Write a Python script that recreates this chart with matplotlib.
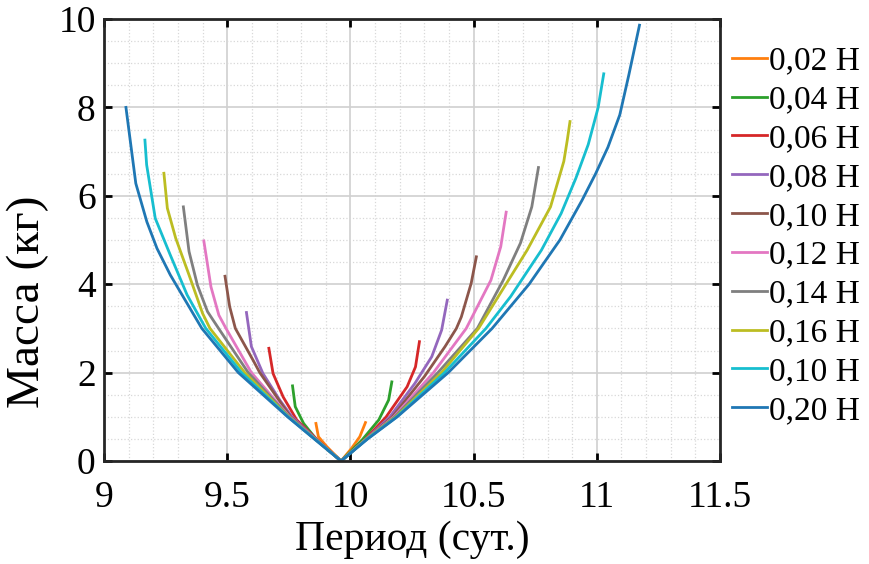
import matplotlib
matplotlib.use("Agg")
import matplotlib.pyplot as plt
from matplotlib.ticker import MultipleLocator

plt.rcParams['font.family'] = ['Liberation Serif', 'DejaVu Serif']

labels = ['0,02 Н', '0,04 Н', '0,06 Н', '0,08 Н', '0,10 Н',
          '0,12 Н', '0,14 Н', '0,16 Н', '0,10 Н', '0,20 Н']
colors = ['#ff7f0e', '#2ca02c', '#d62728', '#9467bd', '#8c564b',
          '#e377c2', '#7f7f7f', '#bcbd22', '#17becf', '#1f77b4']
xticks = [9, 9.5, 10, 10.5, 11, 11.5]
xtick_labels = ['9', '9.5', '10', '10.5', '11', '11.5']
yticks = [0, 2, 4, 6, 8, 10]

# period (days) / mass (kg), left top -> vertex -> right top
p002 = [9.860, 9.870, 9.905, 9.962, 10.005, 10.038, 10.061]
m002 = [0.85, 0.55, 0.32, 0.0, 0.29, 0.55, 0.87]

p004 = [9.765, 9.776, 9.810, 9.864, 9.962, 10.047, 10.115, 10.155, 10.168]
m004 = [1.70, 1.23, 0.85, 0.475, 0.0, 0.475, 0.93, 1.38, 1.79]

p006 = [9.669, 9.686, 9.727, 9.782, 9.862, 9.962, 10.062, 10.145, 10.23, 10.264, 10.28]
m006 = [2.55, 1.98, 1.45, 0.93, 0.5, 0.0, 0.5, 1.0, 1.68, 2.13, 2.70]

p008 = [9.578, 9.598, 9.645, 9.713, 9.763, 9.859, 9.962, 10.064, 10.16, 10.262, 10.33, 10.37, 10.393]
m008 = [3.36, 2.59, 1.98, 1.38, 1.0, 0.5, 0.0, 0.5, 1.0, 1.76, 2.36, 2.96, 3.64]

p010 = [9.491, 9.51, 9.533, 9.605, 9.632, 9.757, 9.858, 9.962, 10.065, 10.17, 10.30, 10.384, 10.43, 10.45, 10.49, 10.511]
m010 = [4.18, 3.49, 3.0, 2.28, 2.0, 1.0, 0.5, 0.0, 0.5, 1.0, 1.91, 2.59, 3.0, 3.26, 4.02, 4.62]

p012 = [9.405, 9.434, 9.466, 9.495, 9.598, 9.753, 9.858, 9.962, 10.065, 10.176, 10.337, 10.47, 10.57, 10.61, 10.632]
m012 = [4.98, 3.94, 3.30, 3.0, 2.0, 1.0, 0.5, 0.0, 0.5, 1.0, 2.0, 3.0, 4.09, 4.85, 5.63]

p014 = [9.322, 9.345, 9.379, 9.42, 9.465, 9.585, 9.751, 9.857, 9.962, 10.066, 10.18, 10.355, 10.515, 10.62, 10.69, 10.736, 10.763]
m014 = [5.75, 4.74, 3.98, 3.38, 3.0, 2.0, 1.0, 0.5, 0.0, 0.5, 1.0, 2.0, 3.0, 4.09, 4.93, 5.75, 6.64]

p016 = [9.243, 9.257, 9.291, 9.345, 9.40, 9.43, 9.571, 9.749, 9.856, 9.962, 10.066, 10.185, 10.37, 10.52, 10.62, 10.717, 10.812, 10.866, 10.88, 10.891]
m016 = [6.51, 5.72, 5.04, 4.21, 3.34, 3.0, 2.0, 1.0, 0.5, 0.0, 0.5, 1.0, 2.0, 3.0, 3.9, 4.77, 5.75, 6.78, 7.26, 7.68]

p018 = [9.166, 9.173, 9.208, 9.269, 9.337, 9.413, 9.558, 9.747, 9.855, 9.962, 10.068, 10.188, 10.382, 10.55, 10.65, 10.775, 10.855, 10.915, 10.965, 11.005, 11.028]
m018 = [7.26, 6.70, 5.49, 4.66, 3.76, 3.0, 2.0, 1.0, 0.5, 0.0, 0.5, 1.0, 2.0, 3.0, 3.72, 4.77, 5.6, 6.4, 7.16, 7.99, 8.76]

p020 = [9.089, 9.129, 9.174, 9.215, 9.269, 9.397, 9.545, 9.745, 9.853, 9.962, 10.07, 10.19, 10.397, 10.575, 10.725, 10.85, 10.94, 10.995, 11.045, 11.093, 11.13, 11.173]
m020 = [8.0, 6.28, 5.41, 4.81, 4.21, 3.0, 2.0, 1.0, 0.5, 0.0, 0.5, 1.0, 2.0, 3.0, 4.0, 5.0, 5.9, 6.5, 7.1, 7.83, 8.74, 9.86]

periods = [p002, p004, p006, p008, p010, p012, p014, p016, p018, p020]
masses = [m002, m004, m006, m008, m010, m012, m014, m016, m018, m020]

fig = plt.figure(figsize=(8.69, 5.64), dpi=100)
ax = fig.add_axes([0.1197, 0.1826, 0.7089, 0.7837])

for p, m, c, lab in zip(periods, masses, colors, labels):
    ax.plot(p, m, color=c, lw=2, label=lab)

ax.set_xlim(9, 11.5)
ax.set_ylim(0, 10)
ax.set_xticks(xticks, xtick_labels)
ax.set_yticks(yticks)
ax.xaxis.set_minor_locator(MultipleLocator(0.1))
ax.yaxis.set_minor_locator(MultipleLocator(0.5))

ax.grid(which='major', color='#d0d0d0', lw=1.2)
ax.grid(which='minor', color='#d8d8d8', lw=0.9, ls=':')
ax.set_axisbelow(True)

ax.tick_params(which='major', direction='in', length=6, width=2,
               top=True, right=True, labelsize=27)
ax.tick_params(axis='x', pad=14)
ax.tick_params(axis='y', pad=6)
ax.tick_params(which='minor', length=0)
for s in ax.spines.values():
    s.set_linewidth(2)
    s.set_color('#262626')

ax.set_xlabel('Период (сут.)', fontsize=30)
ax.xaxis.set_label_coords(0.5, -0.135)
ax.set_ylabel('Масса (кг)', fontsize=34)
ax.yaxis.set_label_coords(-0.09, 0.36)

fig.legend(*ax.get_legend_handles_labels(), loc='upper left',
           bbox_to_anchor=(732 / 869, 1 - 46 / 564), frameon=False,
           fontsize=24, handlelength=1.05, handletextpad=0.05,
           labelspacing=0.25, borderaxespad=0, borderpad=0)

fig.savefig('out.png', dpi=100)
